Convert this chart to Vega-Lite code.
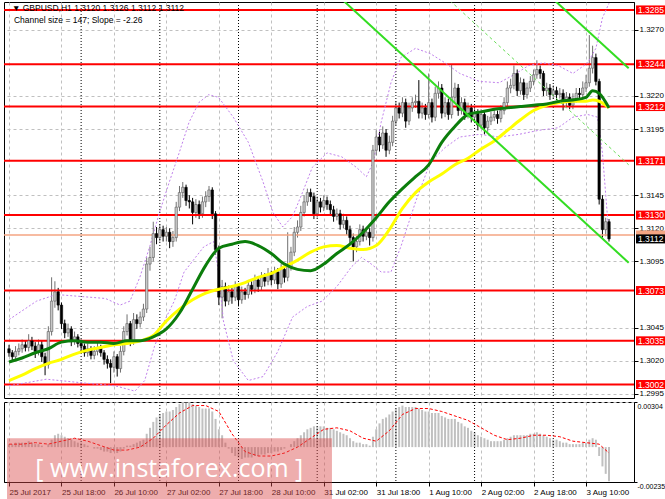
{
"$schema":"https://vega.github.io/schema/vega-lite/v6.json",
"background":"#ffffff",
"padding":{"left":2,"top":1,"right":0,"bottom":0},
"spacing":4,
"bounds":"flush",
"config":{"view":{"stroke":"#000000","strokeWidth":1},"axis":{"labelFont":"Liberation Sans","labelFontSize":8,"labelColor":"#000000","domainColor":"#000000","tickColor":"#000000","gridColor":"#c0c0c0","gridDash":[3,3],"title":null}},
"datasets":{
"candles":[
{"i":0,"o":1.3029,"h":1.3032,"l":1.3023,"c":1.3026,"m":0.0002},
{"i":1,"o":1.3026,"h":1.3028,"l":1.3019,"c":1.3023,"m":0.0002},
{"i":2,"o":1.3023,"h":1.3031,"l":1.3021,"c":1.3027,"m":0.0003},
{"i":3,"o":1.3027,"h":1.3033,"l":1.3024,"c":1.3029,"m":0.0003},
{"i":4,"o":1.3029,"h":1.3036,"l":1.3026,"c":1.3032,"m":0.0003},
{"i":5,"o":1.3032,"h":1.3035,"l":1.3027,"c":1.3030,"m":0.0003},
{"i":6,"o":1.3030,"h":1.3040,"l":1.3027,"c":1.3035,"m":0.0004},
{"i":7,"o":1.3035,"h":1.3038,"l":1.3028,"c":1.3031,"m":0.0003},
{"i":8,"o":1.3031,"h":1.3034,"l":1.3022,"c":1.3027,"m":0.0002},
{"i":9,"o":1.3027,"h":1.3036,"l":1.3024,"c":1.3032,"m":0.0002},
{"i":10,"o":1.3032,"h":1.3035,"l":1.3019,"c":1.3023,"m":0.0001},
{"i":11,"o":1.3023,"h":1.3026,"l":1.3009,"c":1.3017,"m":0.0000},
{"i":12,"o":1.3017,"h":1.3046,"l":1.3014,"c":1.3042,"m":0.0002},
{"i":13,"o":1.3042,"h":1.3083,"l":1.3039,"c":1.3065,"m":0.0005},
{"i":14,"o":1.3065,"h":1.3080,"l":1.3060,"c":1.3072,"m":0.0008},
{"i":15,"o":1.3072,"h":1.3075,"l":1.3058,"c":1.3062,"m":0.0009},
{"i":16,"o":1.3062,"h":1.3064,"l":1.3044,"c":1.3048,"m":0.0008},
{"i":17,"o":1.3048,"h":1.3051,"l":1.3037,"c":1.3041,"m":0.0007},
{"i":18,"o":1.3041,"h":1.3048,"l":1.3038,"c":1.3044,"m":0.0006},
{"i":19,"o":1.3044,"h":1.3046,"l":1.3031,"c":1.3035,"m":0.0005},
{"i":20,"o":1.3035,"h":1.3042,"l":1.3032,"c":1.3038,"m":0.0004},
{"i":21,"o":1.3038,"h":1.3040,"l":1.3030,"c":1.3033,"m":0.0003},
{"i":22,"o":1.3033,"h":1.3036,"l":1.3027,"c":1.3031,"m":0.0003},
{"i":23,"o":1.3031,"h":1.3033,"l":1.3023,"c":1.3026,"m":0.0002},
{"i":24,"o":1.3026,"h":1.3033,"l":1.3023,"c":1.3029,"m":0.0001},
{"i":25,"o":1.3029,"h":1.3031,"l":1.3021,"c":1.3024,"m":0.0000},
{"i":26,"o":1.3024,"h":1.3031,"l":1.3021,"c":1.3027,"m":-0.0001},
{"i":27,"o":1.3027,"h":1.3034,"l":1.3024,"c":1.3030,"m":-0.0001},
{"i":28,"o":1.3030,"h":1.3032,"l":1.3023,"c":1.3026,"m":-0.0002},
{"i":29,"o":1.3026,"h":1.3028,"l":1.3017,"c":1.3021,"m":-0.0003},
{"i":30,"o":1.3021,"h":1.3024,"l":1.3014,"c":1.3018,"m":-0.0003},
{"i":31,"o":1.3018,"h":1.3021,"l":1.3003,"c":1.3015,"m":-0.0004},
{"i":32,"o":1.3015,"h":1.3027,"l":1.3011,"c":1.3023,"m":-0.0003},
{"i":33,"o":1.3023,"h":1.3025,"l":1.3008,"c":1.3014,"m":-0.0004},
{"i":34,"o":1.3014,"h":1.3031,"l":1.3011,"c":1.3027,"m":-0.0003},
{"i":35,"o":1.3027,"h":1.3046,"l":1.3024,"c":1.3042,"m":-0.0001},
{"i":36,"o":1.3042,"h":1.3055,"l":1.3039,"c":1.3048,"m":0.0001},
{"i":37,"o":1.3048,"h":1.3050,"l":1.3031,"c":1.3035,"m":0.0001},
{"i":38,"o":1.3035,"h":1.3056,"l":1.3032,"c":1.3051,"m":0.0002},
{"i":39,"o":1.3051,"h":1.3055,"l":1.3044,"c":1.3048,"m":0.0003},
{"i":40,"o":1.3048,"h":1.3057,"l":1.3045,"c":1.3053,"m":0.0004},
{"i":41,"o":1.3053,"h":1.3063,"l":1.3050,"c":1.3059,"m":0.0005},
{"i":42,"o":1.3059,"h":1.3098,"l":1.3056,"c":1.3093,"m":0.0009},
{"i":43,"o":1.3093,"h":1.3106,"l":1.3088,"c":1.3098,"m":0.0013},
{"i":44,"o":1.3098,"h":1.3125,"l":1.3095,"c":1.3116,"m":0.0017},
{"i":45,"o":1.3116,"h":1.3121,"l":1.3108,"c":1.3113,"m":0.0020},
{"i":46,"o":1.3113,"h":1.3123,"l":1.3110,"c":1.3119,"m":0.0022},
{"i":47,"o":1.3119,"h":1.3122,"l":1.3110,"c":1.3114,"m":0.0023},
{"i":48,"o":1.3114,"h":1.3121,"l":1.3110,"c":1.3117,"m":0.0024},
{"i":49,"o":1.3117,"h":1.3120,"l":1.3105,"c":1.3110,"m":0.0024},
{"i":50,"o":1.3110,"h":1.3118,"l":1.3106,"c":1.3113,"m":0.0025},
{"i":51,"o":1.3113,"h":1.3140,"l":1.3110,"c":1.3136,"m":0.0027},
{"i":52,"o":1.3136,"h":1.3152,"l":1.3133,"c":1.3147,"m":0.0029},
{"i":53,"o":1.3147,"h":1.3155,"l":1.3143,"c":1.3151,"m":0.0030},
{"i":54,"o":1.3151,"h":1.3153,"l":1.3137,"c":1.3141,"m":0.0030},
{"i":55,"o":1.3141,"h":1.3145,"l":1.3135,"c":1.3140,"m":0.0030},
{"i":56,"o":1.3140,"h":1.3143,"l":1.3123,"c":1.3132,"m":0.0029},
{"i":57,"o":1.3132,"h":1.3142,"l":1.3128,"c":1.3138,"m":0.0028},
{"i":58,"o":1.3138,"h":1.3141,"l":1.3127,"c":1.3131,"m":0.0027},
{"i":59,"o":1.3131,"h":1.3144,"l":1.3128,"c":1.3140,"m":0.0026},
{"i":60,"o":1.3140,"h":1.3148,"l":1.3136,"c":1.3144,"m":0.0026},
{"i":61,"o":1.3144,"h":1.3152,"l":1.3140,"c":1.3149,"m":0.0026},
{"i":62,"o":1.3149,"h":1.3151,"l":1.3127,"c":1.3131,"m":0.0024},
{"i":63,"o":1.3131,"h":1.3133,"l":1.3100,"c":1.3104,"m":0.0019},
{"i":64,"o":1.3104,"h":1.3107,"l":1.3062,"c":1.3068,"m":0.0012},
{"i":65,"o":1.3068,"h":1.3081,"l":1.3052,"c":1.3076,"m":0.0008},
{"i":66,"o":1.3076,"h":1.3079,"l":1.3061,"c":1.3065,"m":0.0003},
{"i":67,"o":1.3065,"h":1.3077,"l":1.3062,"c":1.3072,"m":-0.0001},
{"i":68,"o":1.3072,"h":1.3075,"l":1.3063,"c":1.3068,"m":-0.0004},
{"i":69,"o":1.3068,"h":1.3080,"l":1.3065,"c":1.3076,"m":-0.0006},
{"i":70,"o":1.3076,"h":1.3078,"l":1.3061,"c":1.3066,"m":-0.0007},
{"i":71,"o":1.3066,"h":1.3076,"l":1.3063,"c":1.3072,"m":-0.0008},
{"i":72,"o":1.3072,"h":1.3075,"l":1.3066,"c":1.3070,"m":-0.0007},
{"i":73,"o":1.3070,"h":1.3081,"l":1.3067,"c":1.3077,"m":-0.0007},
{"i":74,"o":1.3077,"h":1.3080,"l":1.3070,"c":1.3074,"m":-0.0007},
{"i":75,"o":1.3074,"h":1.3085,"l":1.3071,"c":1.3081,"m":-0.0006},
{"i":76,"o":1.3081,"h":1.3084,"l":1.3072,"c":1.3076,"m":-0.0006},
{"i":77,"o":1.3076,"h":1.3087,"l":1.3073,"c":1.3083,"m":-0.0005},
{"i":78,"o":1.3083,"h":1.3086,"l":1.3076,"c":1.3080,"m":-0.0005},
{"i":79,"o":1.3080,"h":1.3090,"l":1.3077,"c":1.3085,"m":-0.0004},
{"i":80,"o":1.3085,"h":1.3088,"l":1.3077,"c":1.3081,"m":-0.0004},
{"i":81,"o":1.3081,"h":1.3091,"l":1.3078,"c":1.3087,"m":-0.0003},
{"i":82,"o":1.3087,"h":1.3090,"l":1.3074,"c":1.3078,"m":-0.0003},
{"i":83,"o":1.3078,"h":1.3093,"l":1.3075,"c":1.3089,"m":-0.0002},
{"i":84,"o":1.3089,"h":1.3092,"l":1.3079,"c":1.3083,"m":-0.0001},
{"i":85,"o":1.3083,"h":1.3117,"l":1.3080,"c":1.3091,"m":0.0000},
{"i":86,"o":1.3091,"h":1.3106,"l":1.3088,"c":1.3102,"m":0.0002},
{"i":87,"o":1.3102,"h":1.3121,"l":1.3099,"c":1.3117,"m":0.0004},
{"i":88,"o":1.3117,"h":1.3126,"l":1.3113,"c":1.3121,"m":0.0006},
{"i":89,"o":1.3121,"h":1.3137,"l":1.3118,"c":1.3132,"m":0.0008},
{"i":90,"o":1.3132,"h":1.3145,"l":1.3129,"c":1.3140,"m":0.0010},
{"i":91,"o":1.3140,"h":1.3150,"l":1.3137,"c":1.3147,"m":0.0012},
{"i":92,"o":1.3147,"h":1.3150,"l":1.3140,"c":1.3144,"m":0.0013},
{"i":93,"o":1.3144,"h":1.3147,"l":1.3127,"c":1.3131,"m":0.0014},
{"i":94,"o":1.3131,"h":1.3144,"l":1.3128,"c":1.3140,"m":0.0014},
{"i":95,"o":1.3140,"h":1.3143,"l":1.3132,"c":1.3136,"m":0.0014},
{"i":96,"o":1.3136,"h":1.3145,"l":1.3133,"c":1.3141,"m":0.0014},
{"i":97,"o":1.3141,"h":1.3144,"l":1.3134,"c":1.3138,"m":0.0013},
{"i":98,"o":1.3138,"h":1.3141,"l":1.3130,"c":1.3134,"m":0.0013},
{"i":99,"o":1.3134,"h":1.3137,"l":1.3125,"c":1.3129,"m":0.0012},
{"i":100,"o":1.3129,"h":1.3135,"l":1.3126,"c":1.3131,"m":0.0011},
{"i":101,"o":1.3131,"h":1.3134,"l":1.3119,"c":1.3123,"m":0.0010},
{"i":102,"o":1.3123,"h":1.3131,"l":1.3120,"c":1.3126,"m":0.0009},
{"i":103,"o":1.3126,"h":1.3129,"l":1.3115,"c":1.3119,"m":0.0008},
{"i":104,"o":1.3119,"h":1.3122,"l":1.3109,"c":1.3113,"m":0.0006},
{"i":105,"o":1.3113,"h":1.3116,"l":1.3095,"c":1.3106,"m":0.0004},
{"i":106,"o":1.3106,"h":1.3114,"l":1.3102,"c":1.3110,"m":0.0003},
{"i":107,"o":1.3110,"h":1.3123,"l":1.3107,"c":1.3119,"m":0.0003},
{"i":108,"o":1.3119,"h":1.3122,"l":1.3110,"c":1.3114,"m":0.0002},
{"i":109,"o":1.3114,"h":1.3121,"l":1.3111,"c":1.3117,"m":0.0002},
{"i":110,"o":1.3117,"h":1.3120,"l":1.3107,"c":1.3113,"m":0.0001},
{"i":111,"o":1.3113,"h":1.3183,"l":1.3110,"c":1.3179,"m":0.0007},
{"i":112,"o":1.3179,"h":1.3194,"l":1.3175,"c":1.3189,"m":0.0012},
{"i":113,"o":1.3189,"h":1.3193,"l":1.3178,"c":1.3183,"m":0.0016},
{"i":114,"o":1.3183,"h":1.3197,"l":1.3180,"c":1.3192,"m":0.0019},
{"i":115,"o":1.3192,"h":1.3195,"l":1.3174,"c":1.3179,"m":0.0020},
{"i":116,"o":1.3179,"h":1.3190,"l":1.3176,"c":1.3185,"m":0.0022},
{"i":117,"o":1.3185,"h":1.3205,"l":1.3182,"c":1.3201,"m":0.0024},
{"i":118,"o":1.3201,"h":1.3216,"l":1.3198,"c":1.3211,"m":0.0026},
{"i":119,"o":1.3211,"h":1.3215,"l":1.3203,"c":1.3207,"m":0.0027},
{"i":120,"o":1.3207,"h":1.3219,"l":1.3204,"c":1.3215,"m":0.0028},
{"i":121,"o":1.3215,"h":1.3218,"l":1.3196,"c":1.3201,"m":0.0027},
{"i":122,"o":1.3201,"h":1.3215,"l":1.3198,"c":1.3211,"m":0.0027},
{"i":123,"o":1.3211,"h":1.3219,"l":1.3208,"c":1.3215,"m":0.0027},
{"i":124,"o":1.3215,"h":1.3221,"l":1.3211,"c":1.3216,"m":0.0027},
{"i":125,"o":1.3216,"h":1.3232,"l":1.3203,"c":1.3207,"m":0.0026},
{"i":126,"o":1.3207,"h":1.3215,"l":1.3203,"c":1.3211,"m":0.0025},
{"i":127,"o":1.3211,"h":1.3214,"l":1.3202,"c":1.3206,"m":0.0024},
{"i":128,"o":1.3206,"h":1.3237,"l":1.3203,"c":1.3215,"m":0.0024},
{"i":129,"o":1.3215,"h":1.3218,"l":1.3200,"c":1.3204,"m":0.0023},
{"i":130,"o":1.3204,"h":1.3227,"l":1.3201,"c":1.3222,"m":0.0023},
{"i":131,"o":1.3222,"h":1.3231,"l":1.3218,"c":1.3226,"m":0.0023},
{"i":132,"o":1.3226,"h":1.3229,"l":1.3203,"c":1.3207,"m":0.0021},
{"i":133,"o":1.3207,"h":1.3219,"l":1.3204,"c":1.3215,"m":0.0020},
{"i":134,"o":1.3215,"h":1.3218,"l":1.3202,"c":1.3206,"m":0.0019},
{"i":135,"o":1.3206,"h":1.3244,"l":1.3203,"c":1.3219,"m":0.0019},
{"i":136,"o":1.3219,"h":1.3230,"l":1.3215,"c":1.3226,"m":0.0019},
{"i":137,"o":1.3226,"h":1.3229,"l":1.3205,"c":1.3209,"m":0.0017},
{"i":138,"o":1.3209,"h":1.3219,"l":1.3206,"c":1.3215,"m":0.0016},
{"i":139,"o":1.3215,"h":1.3218,"l":1.3202,"c":1.3206,"m":0.0014},
{"i":140,"o":1.3206,"h":1.3215,"l":1.3203,"c":1.3211,"m":0.0013},
{"i":141,"o":1.3211,"h":1.3214,"l":1.3200,"c":1.3204,"m":0.0011},
{"i":142,"o":1.3204,"h":1.3211,"l":1.3201,"c":1.3207,"m":0.0010},
{"i":143,"o":1.3207,"h":1.3210,"l":1.3194,"c":1.3198,"m":0.0008},
{"i":144,"o":1.3198,"h":1.3210,"l":1.3195,"c":1.3206,"m":0.0007},
{"i":145,"o":1.3206,"h":1.3209,"l":1.3191,"c":1.3196,"m":0.0006},
{"i":146,"o":1.3196,"h":1.3205,"l":1.3193,"c":1.3201,"m":0.0005},
{"i":147,"o":1.3201,"h":1.3208,"l":1.3198,"c":1.3204,"m":0.0004},
{"i":148,"o":1.3204,"h":1.3210,"l":1.3201,"c":1.3206,"m":0.0004},
{"i":149,"o":1.3206,"h":1.3209,"l":1.3199,"c":1.3203,"m":0.0004},
{"i":150,"o":1.3203,"h":1.3213,"l":1.3200,"c":1.3209,"m":0.0004},
{"i":151,"o":1.3209,"h":1.3219,"l":1.3206,"c":1.3215,"m":0.0005},
{"i":152,"o":1.3215,"h":1.3231,"l":1.3212,"c":1.3226,"m":0.0006},
{"i":153,"o":1.3226,"h":1.3233,"l":1.3222,"c":1.3228,"m":0.0007},
{"i":154,"o":1.3228,"h":1.3243,"l":1.3225,"c":1.3237,"m":0.0008},
{"i":155,"o":1.3237,"h":1.3240,"l":1.3220,"c":1.3224,"m":0.0008},
{"i":156,"o":1.3224,"h":1.3234,"l":1.3221,"c":1.3230,"m":0.0008},
{"i":157,"o":1.3230,"h":1.3233,"l":1.3217,"c":1.3221,"m":0.0008},
{"i":158,"o":1.3221,"h":1.3230,"l":1.3218,"c":1.3226,"m":0.0008},
{"i":159,"o":1.3226,"h":1.3235,"l":1.3223,"c":1.3231,"m":0.0009},
{"i":160,"o":1.3231,"h":1.3240,"l":1.3228,"c":1.3236,"m":0.0009},
{"i":161,"o":1.3236,"h":1.3247,"l":1.3233,"c":1.3240,"m":0.0010},
{"i":162,"o":1.3240,"h":1.3243,"l":1.3233,"c":1.3237,"m":0.0009},
{"i":163,"o":1.3237,"h":1.3239,"l":1.3220,"c":1.3224,"m":0.0008},
{"i":164,"o":1.3224,"h":1.3230,"l":1.3220,"c":1.3226,"m":0.0007},
{"i":165,"o":1.3226,"h":1.3229,"l":1.3217,"c":1.3221,"m":0.0006},
{"i":166,"o":1.3221,"h":1.3228,"l":1.3218,"c":1.3224,"m":0.0005},
{"i":167,"o":1.3224,"h":1.3227,"l":1.3217,"c":1.3221,"m":0.0005},
{"i":168,"o":1.3221,"h":1.3226,"l":1.3218,"c":1.3222,"m":0.0004},
{"i":169,"o":1.3222,"h":1.3225,"l":1.3209,"c":1.3215,"m":0.0003},
{"i":170,"o":1.3215,"h":1.3223,"l":1.3212,"c":1.3219,"m":0.0003},
{"i":171,"o":1.3219,"h":1.3222,"l":1.3210,"c":1.3213,"m":0.0002},
{"i":172,"o":1.3213,"h":1.3222,"l":1.3210,"c":1.3218,"m":0.0002},
{"i":173,"o":1.3218,"h":1.3226,"l":1.3215,"c":1.3222,"m":0.0002},
{"i":174,"o":1.3222,"h":1.3226,"l":1.3217,"c":1.3221,"m":0.0002},
{"i":175,"o":1.3221,"h":1.3231,"l":1.3218,"c":1.3226,"m":0.0003},
{"i":176,"o":1.3226,"h":1.3236,"l":1.3223,"c":1.3230,"m":0.0003},
{"i":177,"o":1.3230,"h":1.3266,"l":1.3227,"c":1.3241,"m":0.0005},
{"i":178,"o":1.3241,"h":1.3258,"l":1.3237,"c":1.3249,"m":0.0006},
{"i":179,"o":1.3249,"h":1.3252,"l":1.3228,"c":1.3231,"m":0.0005},
{"i":180,"o":1.3231,"h":1.3233,"l":1.3138,"c":1.3142,"m":-0.0006},
{"i":181,"o":1.3142,"h":1.3145,"l":1.3113,"c":1.3119,"m":-0.0013},
{"i":182,"o":1.3119,"h":1.3128,"l":1.3114,"c":1.3125,"m":-0.0018},
{"i":183,"o":1.3125,"h":1.3127,"l":1.3110,"c":1.3112,"m":-0.0023}
],
"ma":[
{"i":0,"g":1.3019,"y":1.3005},{"i":4,"g":1.3022,"y":1.3009},{"i":8,"g":1.3026,"y":1.3014},{"i":12,"g":1.3029,"y":1.3018},
{"i":16,"g":1.3034,"y":1.3021},{"i":20,"g":1.3035,"y":1.3025},{"i":24,"g":1.3034,"y":1.3028},{"i":28,"g":1.3034,"y":1.3030},
{"i":32,"g":1.3033,"y":1.3032},{"i":36,"g":1.3035,"y":1.3033},{"i":40,"g":1.3035,"y":1.3035},{"i":44,"g":1.3038,"y":1.3039},
{"i":48,"g":1.3044,"y":1.3050},{"i":52,"g":1.3056,"y":1.3059},{"i":56,"g":1.3074,"y":1.3066},{"i":60,"g":1.3092,"y":1.3071},
{"i":64,"g":1.3105,"y":1.3074},{"i":68,"g":1.3108,"y":1.3076},{"i":72,"g":1.3110,"y":1.3079},{"i":76,"g":1.3107,"y":1.3083},
{"i":80,"g":1.3101,"y":1.3086},{"i":84,"g":1.3093,"y":1.3091},{"i":88,"g":1.3089,"y":1.3096},{"i":92,"g":1.3088,"y":1.3102},
{"i":96,"g":1.3093,"y":1.3106},{"i":100,"g":1.3101,"y":1.3107},{"i":104,"g":1.3108,"y":1.3105},{"i":108,"g":1.3117,"y":1.3104},
{"i":112,"g":1.3128,"y":1.3107},{"i":116,"g":1.3140,"y":1.3119},{"i":120,"g":1.3150,"y":1.3135},{"i":124,"g":1.3159,"y":1.3147},
{"i":128,"g":1.3168,"y":1.3155},{"i":132,"g":1.3185,"y":1.3161},{"i":136,"g":1.3197,"y":1.3168},{"i":140,"g":1.3206,"y":1.3173},
{"i":144,"g":1.3208,"y":1.3180},{"i":148,"g":1.3210,"y":1.3186},{"i":152,"g":1.3211,"y":1.3194},{"i":156,"g":1.3212,"y":1.3202},
{"i":160,"g":1.3213,"y":1.3209},{"i":164,"g":1.3214,"y":1.3213},{"i":168,"g":1.3216,"y":1.3215},{"i":172,"g":1.3217,"y":1.3216},
{"i":176,"g":1.3219,"y":1.3216},{"i":178,"g":1.3224,"y":1.3217},{"i":180,"g":1.3222,"y":1.3216},{"i":183,"g":1.3211,"y":1.3211}
],
"bands":[
{"b":"u","i":0,"p":1.3051},{"b":"u","i":8.4,"p":1.3065},{"b":"u","i":14.4,"p":1.3070},{"b":"u","i":29.4,"p":1.3067},{"b":"u","i":33.9,"p":1.3062},{"b":"u","i":36.9,"p":1.3065},{"b":"u","i":39.9,"p":1.3083},{"b":"u","i":42.9,"p":1.3106},{"b":"u","i":45.9,"p":1.3132},{"b":"u","i":48.9,"p":1.3155},{"b":"u","i":51.9,"p":1.3177},{"b":"u","i":54.9,"p":1.3200},{"b":"u","i":57.9,"p":1.3215},{"b":"u","i":60.9,"p":1.3221},{"b":"u","i":63.9,"p":1.3219},{"b":"u","i":68.4,"p":1.3204},{"b":"u","i":73,"p":1.3185},{"b":"u","i":77.5,"p":1.3155},{"b":"u","i":80.5,"p":1.3132},{"b":"u","i":83.5,"p":1.3121},{"b":"u","i":86.5,"p":1.3129},{"b":"u","i":89.5,"p":1.3147},{"b":"u","i":92.5,"p":1.3166},{"b":"u","i":97,"p":1.3177},{"b":"u","i":101.5,"p":1.3174},{"b":"u","i":106,"p":1.3166},{"b":"u","i":109,"p":1.3159},{"b":"u","i":111.1,"p":1.3170},{"b":"u","i":113.5,"p":1.3200},{"b":"u","i":116.5,"p":1.3230},{"b":"u","i":119.5,"p":1.3249},{"b":"u","i":124,"p":1.3256},{"b":"u","i":128.5,"p":1.3252},{"b":"u","i":133,"p":1.3245},{"b":"u","i":137.5,"p":1.3237},{"b":"u","i":143.5,"p":1.3231},{"b":"u","i":149.5,"p":1.3230},{"b":"u","i":154,"p":1.3236},{"b":"u","i":158.5,"p":1.3243},{"b":"u","i":163,"p":1.3245},{"b":"u","i":167.5,"p":1.3243},{"b":"u","i":172,"p":1.3237},{"b":"u","i":176.5,"p":1.3245},{"b":"u","i":179,"p":1.3256},{"b":"u","i":181,"p":1.3279},{"b":"u","i":183,"p":1.3290},
{"b":"l","i":0,"p":1.3001},{"b":"l","i":11.4,"p":1.3006},{"b":"l","i":23.4,"p":1.3003},{"b":"l","i":32.4,"p":1.3001},{"b":"l","i":38.4,"p":1.2997},{"b":"l","i":41.4,"p":1.3005},{"b":"l","i":44.4,"p":1.3031},{"b":"l","i":47.4,"p":1.3050},{"b":"l","i":50.4,"p":1.3065},{"b":"l","i":53.4,"p":1.3087},{"b":"l","i":59.4,"p":1.3106},{"b":"l","i":62.4,"p":1.3110},{"b":"l","i":63.9,"p":1.3087},{"b":"l","i":65.4,"p":1.3050},{"b":"l","i":68.4,"p":1.3020},{"b":"l","i":73,"p":1.3005},{"b":"l","i":77.5,"p":1.3008},{"b":"l","i":82,"p":1.3027},{"b":"l","i":86.5,"p":1.3053},{"b":"l","i":91,"p":1.3061},{"b":"l","i":95.5,"p":1.3065},{"b":"l","i":100,"p":1.3076},{"b":"l","i":104.5,"p":1.3091},{"b":"l","i":107.5,"p":1.3098},{"b":"l","i":110.5,"p":1.3093},{"b":"l","i":113.5,"p":1.3087},{"b":"l","i":116.5,"p":1.3087},{"b":"l","i":119.5,"p":1.3106},{"b":"l","i":124,"p":1.3140},{"b":"l","i":128.5,"p":1.3170},{"b":"l","i":133,"p":1.3181},{"b":"l","i":137.5,"p":1.3189},{"b":"l","i":143.5,"p":1.3191},{"b":"l","i":149.5,"p":1.3189},{"b":"l","i":155.5,"p":1.3191},{"b":"l","i":161.5,"p":1.3194},{"b":"l","i":167.5,"p":1.3196},{"b":"l","i":172,"p":1.3204},{"b":"l","i":176.5,"p":1.3206},{"b":"l","i":179.5,"p":1.3204},{"b":"l","i":181,"p":1.3177},{"b":"l","i":183,"p":1.3114}
],
"sig":[
{"i":0,"s":0.0002},{"i":4,"s":0.0002},{"i":8,"s":0.0003},{"i":12,"s":0.0002},{"i":16,"s":0.0004},{"i":20,"s":0.0006},{"i":24,"s":0.0004},{"i":28,"s":0.0001},{"i":32,"s":-0.0002},{"i":36,"s":-0.0002},{"i":40,"s":0.0000},{"i":44,"s":0.0006},{"i":48,"s":0.0015},{"i":52,"s":0.0023},{"i":56,"s":0.0028},{"i":60,"s":0.0028},{"i":64,"s":0.0024},{"i":68,"s":0.0009},{"i":72,"s":-0.0003},{"i":76,"s":-0.0006},{"i":80,"s":-0.0006},{"i":84,"s":-0.0004},{"i":88,"s":0.0000},{"i":92,"s":0.0006},{"i":96,"s":0.0012},{"i":100,"s":0.0013},{"i":104,"s":0.0011},{"i":108,"s":0.0006},{"i":112,"s":0.0004},{"i":116,"s":0.0011},{"i":120,"s":0.0022},{"i":124,"s":0.0026},{"i":128,"s":0.0026},{"i":132,"s":0.0024},{"i":136,"s":0.0021},{"i":140,"s":0.0018},{"i":144,"s":0.0013},{"i":148,"s":0.0008},{"i":152,"s":0.0005},{"i":156,"s":0.0006},{"i":160,"s":0.0008},{"i":164,"s":0.0008},{"i":168,"s":0.0007},{"i":172,"s":0.0004},{"i":176,"s":0.0003},{"i":180,"s":0.0002},{"i":183,"s":-0.0004}
],
"channel":[
{"ln":"lower","i":102,"p":1.3292},{"ln":"lower","i":189,"p":1.3094},
{"ln":"upper","i":166.5,"p":1.3292},{"ln":"upper","i":189,"p":1.3241},
{"ln":"mid","i":134.5,"p":1.3292},{"ln":"mid","i":189,"p":1.3168}
],
"days":[{"i":22},{"i":46},{"i":70},{"i":94},{"i":118},{"i":142},{"i":166}],
"tags":[
{"p":1.3285,"k":"level"},{"p":1.3244,"k":"level"},{"p":1.3212,"k":"level"},{"p":1.3171,"k":"level"},{"p":1.3130,"k":"level"},{"p":1.3073,"k":"level"},{"p":1.3035,"k":"level"},{"p":1.3002,"k":"level"},{"p":1.3115,"k":"ask"},{"p":1.3112,"k":"bid"}
]
},
"vconcat":[
{
"width":630,"height":396,
"layer":[
{"data":{"name":"candles"},"mark":{"type":"rule","strokeWidth":1},
 "encoding":{"x":{"field":"i","type":"quantitative","scale":{"domain":[0,189.1],"nice":false,"zero":false},
  "axis":{"values":[0,8,16,24,32,40,48,56,64,72,80,88,96,104,112,120,128,136,144,152,160,168,176,184],"labels":false,"ticks":false,"domain":false,"grid":true,"title":null}},
  "y":{"field":"l","type":"quantitative","scale":{"domain":[1.29918,1.3291],"nice":false,"zero":false},
  "axis":{"orient":"right","values":[1.2995,1.302,1.3045,1.3095,1.312,1.3145,1.3195,1.322,1.327],"format":".4f","grid":true,"tickSize":4,"labelPadding":1,"labelFontSize":8,"title":null}},
  "y2":{"field":"h"},
  "stroke":{"condition":{"test":"datum.c >= datum.o","value":"#707070"},"value":"#000000"}}},
{"data":{"name":"days"},"mark":{"type":"rule","stroke":"#000000","strokeDash":[1,2],"strokeWidth":1},
 "encoding":{"x":{"field":"i","type":"quantitative","scale":{"domain":[0,189.1],"nice":false,"zero":false}}}},
{"data":{"name":"tags"},"transform":[{"filter":"datum.k != 'bid'"}],"mark":{"type":"rule"},
 "encoding":{"y":{"field":"p","type":"quantitative","scale":{"domain":[1.29918,1.3291],"nice":false,"zero":false}},
  "color":{"field":"k","type":"nominal","scale":{"domain":["level","ask","bid"],"range":["#ff0000","#f4a582","#000000"]},"legend":null},
  "strokeWidth":{"condition":{"test":"datum.k == 'level'","value":2},"value":1.5}}},
{"data":{"name":"bands"},"mark":{"type":"line","color":"#c080ec","strokeDash":[2,2],"strokeWidth":1,"clip":true},
 "encoding":{"x":{"field":"i","type":"quantitative","scale":{"domain":[0,189.1],"nice":false,"zero":false}},
  "y":{"field":"p","type":"quantitative","scale":{"domain":[1.29918,1.3291],"nice":false,"zero":false}},
  "detail":{"field":"b","type":"nominal"}}},
{"data":{"name":"candles"},"mark":{"type":"bar","size":2.4,"strokeWidth":0.6},
 "encoding":{"x":{"field":"i","type":"quantitative","scale":{"domain":[0,189.1],"nice":false,"zero":false}},
  "y":{"field":"o","type":"quantitative","scale":{"domain":[1.29918,1.3291],"nice":false,"zero":false}},
  "y2":{"field":"c"},
  "fill":{"condition":{"test":"datum.c >= datum.o","value":"#c8c8c8"},"value":"#000000"},
  "stroke":{"condition":{"test":"datum.c >= datum.o","value":"#5a5a5a"},"value":"#000000"}}},
{"data":{"name":"ma"},"mark":{"type":"line","color":"#ffff00","strokeWidth":3,"interpolate":"monotone","clip":true},
 "encoding":{"x":{"field":"i","type":"quantitative","scale":{"domain":[0,189.1],"nice":false,"zero":false}},
  "y":{"field":"y","type":"quantitative","scale":{"domain":[1.29918,1.3291],"nice":false,"zero":false}}}},
{"data":{"name":"ma"},"mark":{"type":"line","color":"#0b7d0b","strokeWidth":3,"interpolate":"monotone","clip":true},
 "encoding":{"x":{"field":"i","type":"quantitative","scale":{"domain":[0,189.1],"nice":false,"zero":false}},
  "y":{"field":"g","type":"quantitative","scale":{"domain":[1.29918,1.3291],"nice":false,"zero":false}}}},
{"data":{"name":"channel"},"transform":[{"filter":"datum.ln != 'mid'"}],"mark":{"type":"line","color":"#33dd22","strokeWidth":2,"clip":true},
 "encoding":{"x":{"field":"i","type":"quantitative","scale":{"domain":[0,189.1],"nice":false,"zero":false}},
  "y":{"field":"p","type":"quantitative","scale":{"domain":[1.29918,1.3291],"nice":false,"zero":false}},
  "detail":{"field":"ln","type":"nominal"}}},
{"data":{"name":"channel"},"transform":[{"filter":"datum.ln == 'mid'"}],"mark":{"type":"line","color":"#66dd55","strokeWidth":1,"strokeDash":[3,3],"clip":true},
 "encoding":{"x":{"field":"i","type":"quantitative","scale":{"domain":[0,189.1],"nice":false,"zero":false}},
  "y":{"field":"p","type":"quantitative","scale":{"domain":[1.29918,1.3291],"nice":false,"zero":false}}}},
{"data":{"name":"tags"},"mark":{"type":"point","shape":"M0.2,-0.45H3.2V0.45H0.2Z","size":400,"filled":true,"opacity":1,"strokeWidth":0},
 "encoding":{"x":{"value":"width"},
  "y":{"field":"p","type":"quantitative","scale":{"domain":[1.29918,1.3291],"nice":false,"zero":false}},
  "fill":{"field":"k","type":"nominal","scale":{"domain":["level","ask","bid"],"range":["#ff0000","#f4a582","#000000"]},"legend":null}}},
{"data":{"name":"tags"},"transform":[{"filter":"datum.k != 'ask'"}],"mark":{"type":"text","align":"left","baseline":"middle","dx":4,"fontSize":8.5,"font":"Liberation Sans","color":"#ffffff"},
 "encoding":{"x":{"value":"width"},
  "y":{"field":"p","type":"quantitative","scale":{"domain":[1.29918,1.3291],"nice":false,"zero":false}},
  "text":{"field":"p","type":"quantitative","format":".4f"}}},
{"data":{"values":[{}]},"mark":{"type":"text","align":"left","baseline":"middle","fontSize":8.5,"font":"Liberation Sans","color":"#000000","text":"▼  GBPUSD,H1  1.3120 1.3126 1.3112 1.3112"},
 "encoding":{"x":{"datum":0.9,"type":"quantitative","scale":{"domain":[0,189.1],"nice":false,"zero":false}},
  "y":{"datum":1.32865,"type":"quantitative","scale":{"domain":[1.29918,1.3291],"nice":false,"zero":false}}}},
{"data":{"values":[{}]},"mark":{"type":"text","align":"left","baseline":"middle","fontSize":8.5,"font":"Liberation Sans","color":"#000000","text":"Channel size = 147; Slope = -2.26"},
 "encoding":{"x":{"datum":1.5,"type":"quantitative","scale":{"domain":[0,189.1],"nice":false,"zero":false}},
  "y":{"datum":1.32774,"type":"quantitative","scale":{"domain":[1.29918,1.3291],"nice":false,"zero":false}}}}
]
},
{
"width":630,"height":80,
"layer":[
{"data":{"name":"candles"},"mark":{"type":"bar","size":2,"color":"#c0c0c0"},
 "encoding":{"x":{"field":"i","type":"quantitative","scale":{"domain":[0,189.1],"nice":false,"zero":false},
  "axis":{"values":[0,8,16,24,32,40,48,56,64,72,80,88,96,104,112,120,128,136,144,152,160,168,176,184],
   "labelExpr":"datum.value % 16 == 0 ? ['25 Jul 2017','25 Jul 18:00','26 Jul 10:00','27 Jul 02:00','27 Jul 18:00','28 Jul 10:00','31 Jul 02:00','31 Jul 18:00','1 Aug 10:00','2 Aug 02:00','2 Aug 18:00','3 Aug 10:00'][round(datum.value / 16)] : ''",
   "labelAlign":"left","labelFlush":false,"labelOverlap":false,"labelPadding":2,"labelFontSize":8,"tickSize":4,
   "tickOpacity":{"condition":{"test":"datum.value % 16 == 0","value":1},"value":0},
   "grid":true,"title":null}},
  "y":{"field":"m","type":"quantitative","scale":{"domain":[-0.00235,0.00304],"nice":false,"zero":false},
   "axis":{"orient":"right","values":[0.00304,0,-0.00235],"labelExpr":"datum.value == 0 ? '0.00' : (datum.value > 0 ? '0.00304' : '-0.00235')",
    "labelBaseline":{"condition":{"test":"datum.value == 0","value":"middle"},"value":"top"},
    "grid":true,"tickSize":3,"labelPadding":0,"labelFontSize":7,"title":null}},
  "y2":{"datum":0}}},
{"data":{"name":"days"},"mark":{"type":"rule","stroke":"#000000","strokeDash":[1,2],"strokeWidth":1},
 "encoding":{"x":{"field":"i","type":"quantitative","scale":{"domain":[0,189.1],"nice":false,"zero":false}}}},
{"data":{"name":"sig"},"mark":{"type":"line","color":"#ff0000","strokeDash":[3,2],"strokeWidth":1},
 "encoding":{"x":{"field":"i","type":"quantitative","scale":{"domain":[0,189.1],"nice":false,"zero":false}},
  "y":{"field":"s","type":"quantitative","scale":{"domain":[-0.00235,0.00304],"nice":false,"zero":false}}}},
{"data":{"values":[{}]},"mark":{"type":"rect","color":"#d94a4a","opacity":0.45,"clip":false},
 "encoding":{"x":{"datum":-0.6,"type":"quantitative","scale":{"domain":[0,189.1],"nice":false,"zero":false}},
  "x2":{"datum":98.5},
  "y":{"datum":0.0006,"type":"quantitative","scale":{"domain":[-0.00235,0.00304],"nice":false,"zero":false}},
  "y2":{"datum":-0.0037}}},
{"data":{"values":[{}]},"mark":{"type":"text","align":"center","baseline":"middle","fontSize":25,"font":"Open Sans","color":"#ffffff","text":"[ www.instaforex.com ]"},
 "encoding":{"x":{"datum":48.9,"type":"quantitative","scale":{"domain":[0,189.1],"nice":false,"zero":false}},
  "y":{"datum":-0.0015,"type":"quantitative","scale":{"domain":[-0.00235,0.00304],"nice":false,"zero":false}}}}
]
}
]
}
